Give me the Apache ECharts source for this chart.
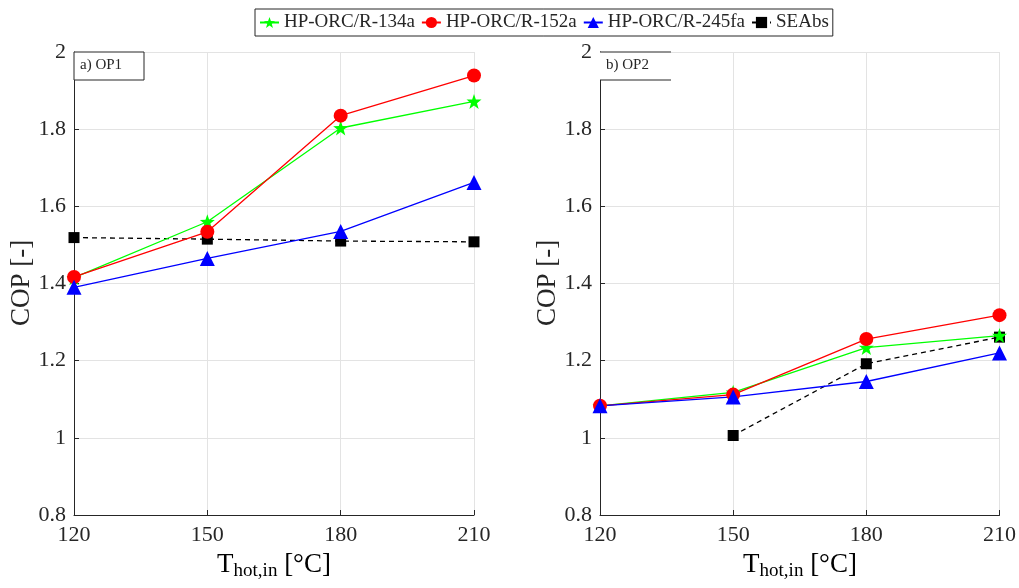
<!DOCTYPE html>
<html>
<head>
<meta charset="utf-8">
<script src="https://cdn.jsdelivr.net/npm/echarts@6/dist/echarts.min.js"></script>
<style>html,body{margin:0;padding:0;background:#fff}#c{width:1019px;height:588px}</style>
</head>
<body>
<div id="c"></div>
<script>
const temps = [120, 150, 180, 210];
const seriesNames = ['HP-ORC/R-134a', 'HP-ORC/R-152a', 'HP-ORC/R-245fa', 'SEAbs'];
// OP1
const op1_r134a = [1.415, 1.560, 1.803, 1.872];
const op1_r152a = [1.417, 1.534, 1.835, 1.939];
const op1_r245fa = [1.390, 1.465, 1.535, 1.662];
const op1_seabs = [1.519, 1.515, 1.510, 1.508];
// OP2
const op2_r134a = [1.083, 1.118, 1.234, 1.265];
const op2_r152a = [1.083, 1.112, 1.256, 1.318];
const op2_r245fa = [1.083, 1.106, 1.146, 1.220];
const op2_seabs = [null, 1.006, 1.192, 1.261];
const yTicks = [0.8, 1, 1.2, 1.4, 1.6, 1.8, 2];
const panelLabels = ['a) OP1', 'b) OP2'];

const FONT = '"Liberation Serif", "Times New Roman", serif';
const TXT = '#262626';
const styles = [
  {color: '#00ff00', symbol: 'path://M0,-10 L2.35,-3.24 L9.51,-3.09 L3.8,1.24 L5.88,8.09 L0,4 L-5.88,8.09 L-3.8,1.24 L-9.51,-3.09 L-2.35,-3.24 Z', size: 15, type: 'solid'},
  {color: '#ff0000', symbol: 'circle', size: 14, type: 'solid'},
  {color: '#0000ff', symbol: 'triangle', size: 15, type: 'solid'},
  {color: '#000000', symbol: 'rect', size: 11, type: [5, 4]}
];
const op1 = [op1_r134a, op1_r152a, op1_r245fa, op1_seabs];
const op2 = [op2_r134a, op2_r152a, op2_r245fa, op2_seabs];

function mkSeries(data, gi) {
  return data.map((vals, i) => ({
    name: seriesNames[i], type: 'line', xAxisIndex: gi, yAxisIndex: gi,
    data: temps.map((t, k) => [t, vals[k]]),
    symbol: styles[i].symbol, symbolSize: styles[i].size, showAllSymbol: true,
    connectNulls: false,
    lineStyle: {color: styles[i].color, width: 1.3, type: styles[i].type},
    itemStyle: {color: styles[i].color, borderWidth: 0},
    emphasis: {disabled: true}, animation: false, z: 3 + (i === 3 ? 0 : 1)
  }));
}

function xAxis(gi) {
  return {
    type: 'value', gridIndex: gi, min: 120, max: 210, interval: 30,
    axisLine: {show: true, lineStyle: {color: '#262626', width: 1}},
    axisTick: {show: true, inside: true, length: 5, lineStyle: {color: '#262626'}},
    axisLabel: {color: TXT, fontFamily: FONT, fontSize: 22, margin: 9},
    splitLine: {show: true, lineStyle: {color: '#e3e3e3', width: 1}}
  };
}
function yAxis(gi) {
  return {
    type: 'value', gridIndex: gi, min: 0.8, max: 2, interval: 0.2,
    axisLine: {show: true, lineStyle: {color: '#262626', width: 1}},
    axisTick: {show: true, inside: true, length: 5, lineStyle: {color: '#262626'}},
    axisLabel: {color: TXT, fontFamily: FONT, fontSize: 22, margin: 8,
      formatter: v => String(Math.round(v * 10) / 10)},
    splitLine: {show: true, lineStyle: {color: '#e3e3e3', width: 1}}
  };
}

const chart = echarts.init(document.getElementById('c'), null, {renderer: 'canvas'});
const xTitle = {
  rich: {
    t: {fontFamily: FONT, fontSize: 27, color: TXT},
    s: {fontFamily: FONT, fontSize: 19, color: TXT, verticalAlign: 'bottom', padding: [12, 0, 0, 0]}
  }
};
chart.setOption({
  animation: false,
  backgroundColor: '#fff',
  grid: [
    {left: 74, right: 545, top: 52, bottom: 73},
    {left: 600, right: 19, top: 52, bottom: 73}
  ],
  xAxis: [xAxis(0), xAxis(1)],
  yAxis: [yAxis(0), yAxis(1)],
  legend: {
    data: seriesNames, left: 255, top: 9, itemWidth: 19, itemHeight: 14, itemGap: 6,
    padding: [4, 4, 4, 4],
    borderColor: '#262626', borderWidth: 1, backgroundColor: '#fff',
    textStyle: {fontFamily: FONT, fontSize: 19, color: TXT, padding: [0, 0, 0, 0]}
  },
  series: [...mkSeries(op1, 0), ...mkSeries(op2, 1)],
  graphic: [
    {type: 'rect', shape: {x: 74, y: 52, width: 70, height: 28}, style: {fill: '#fff', stroke: '#262626', lineWidth: 1}, z: 10},
    {type: 'text', left: 80, top: 58, style: {text: panelLabels[0], font: '15px ' + FONT, fill: TXT}, z: 11},
    {type: 'rect', shape: {x: 600, y: 52, width: 71, height: 28}, style: {fill: '#fff', stroke: null}, z: 10},
    {type: 'line', shape: {x1: 600, y1: 52, x2: 671, y2: 52}, style: {stroke: '#262626', lineWidth: 1}, z: 11},
    {type: 'line', shape: {x1: 600, y1: 80, x2: 671, y2: 80}, style: {stroke: '#262626', lineWidth: 1}, z: 11},
    {type: 'text', left: 606, top: 58, style: {text: panelLabels[1], font: '15px ' + FONT, fill: TXT}, z: 11},
    {type: 'text', x: 22, y: 283, rotation: Math.PI / 2, style: {text: 'COP [-]', font: '27px ' + FONT, fill: TXT, align: 'center', verticalAlign: 'middle'}},
    {type: 'text', x: 548, y: 283, rotation: Math.PI / 2, style: {text: 'COP [-]', font: '27px ' + FONT, fill: TXT, align: 'center', verticalAlign: 'middle'}},
    {type: 'text', x: 274, y: 565, style: {text: '{t|T}{s|hot,in}{t| [°C]}', rich: xTitle.rich, align: 'center', verticalAlign: 'middle'}},
    {type: 'text', x: 800, y: 565, style: {text: '{t|T}{s|hot,in}{t| [°C]}', rich: xTitle.rich, align: 'center', verticalAlign: 'middle'}}
  ]
});
</script>
</body>
</html>
